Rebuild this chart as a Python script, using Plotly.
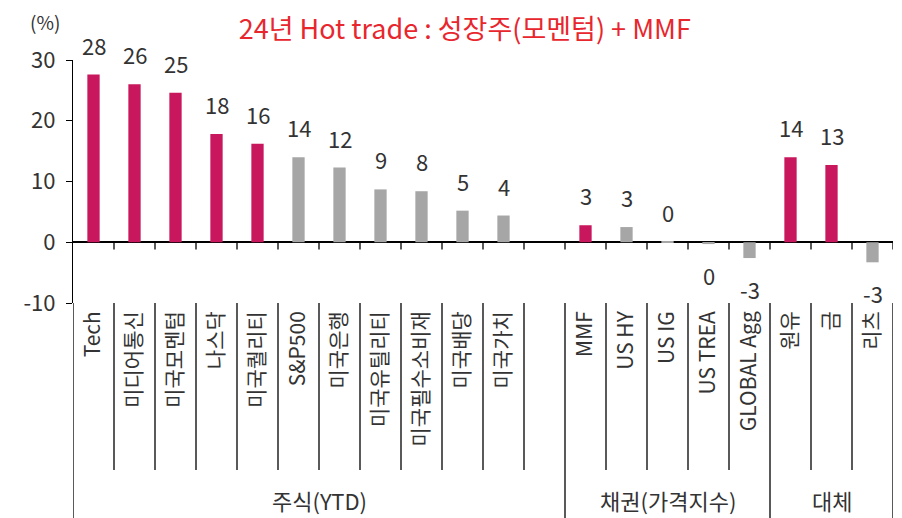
import plotly.graph_objects as go

# data
categories = ['Tech', '미디어통신', '미국모멘텀', '나스닥', '미국퀄리티', 'S&P500', '미국은행',
              '미국유틸리티', '미국필수소비재', '미국배당', '미국가치', '',
              'MMF', 'US HY', 'US IG', 'US TREA', 'GLOBAL Agg',
              '원유', '금', '리츠']
values = [27.6, 26.0, 24.6, 17.8, 16.2, 14.0, 12.3, 8.7, 8.4, 5.2, 4.4, None,
          2.8, 2.5, 0.1, -0.3, -2.6,
          14.0, 12.7, -3.3]
labels = ['28', '26', '25', '18', '16', '14', '12', '9', '8', '5', '4', '',
          '3', '3', '0', '0', '-3',
          '14', '13', '-3']
hot = [1, 1, 1, 1, 1, 0, 0, 0, 0, 0, 0, 0,
       1, 0, 0, 0, 0,
       1, 1, 0]
groups = ['주식(YTD)', '채권(가격지수)', '대체']
group_edges = [(0, 12), (12, 17), (17, 20)]   # slot ranges
y_ticks = [-10, 0, 10, 20, 30]
y_ticktext = ['-10', '0', '10', '20', '30']

MAGENTA = '#c8175d'
GRAY = '#a6a6a6'
TXT = '#333333'
FONT = 'Noto Sans CJK KR'

x = list(range(len(categories)))
colors = [MAGENTA if h else GRAY for h in hot]

fig = go.Figure()
fig.add_trace(go.Bar(x=x, y=values, marker=dict(color=colors, line=dict(width=0)),
                     width=0.3, hoverinfo='skip'))

# value labels
for xi, v, t in zip(x, values, labels):
    if v is None:
        continue
    fig.add_annotation(x=xi, y=v, text=t, showarrow=False, yanchor='middle',
                       yshift=30 if v > 0 else -31,
                       font=dict(size=22, color=TXT, family=FONT))

shapes = []
# small ticks below the zero line at slot boundaries
for k in range(1, len(categories) + 1):
    shapes.append(dict(type='line', xref='x', yref='y', x0=k - 0.5, x1=k - 0.5,
                       y0=0, y1=-1.2, line=dict(color='black', width=1.3)))
# dividers between category labels
group_bounds = [g[0] for g in group_edges] + [group_edges[-1][1]]
for k in range(0, len(categories) + 1):
    y1 = -0.9 if k in group_bounds else -0.687
    shapes.append(dict(type='line', xref='x', yref='paper', x0=k - 0.5, x1=k - 0.5,
                       y0=0, y1=y1, line=dict(color='black', width=1.3)))

# group labels
for name, (a, b) in zip(groups, group_edges):
    fig.add_annotation(x=(a + b - 1) / 2, xref='x', y=-0.81, yref='paper', text=name,
                       showarrow=False, yanchor='middle',
                       font=dict(size=22, color=TXT, family=FONT))

fig.add_annotation(x=-0.055, xref='paper', y=1.16, yref='paper', text='(%)',
                   showarrow=False, yanchor='middle',
                   font=dict(size=19, color=TXT, family=FONT))

# page body has an 8px margin, so the figure is 8px smaller and offset
fig.update_layout(
    width=894, height=510,
    margin=dict(l=65, r=9, t=52, b=215, autoexpand=False),
    plot_bgcolor='white', paper_bgcolor='white',
    showlegend=False,
    font=dict(family=FONT, color=TXT),
    title=dict(text='24년 Hot trade : 성장주(모멘텀) + MMF', x=0.511, xanchor='center',
               y=0.957, yanchor='middle', yref='container',
               font=dict(size=27, color='#e8262e', family=FONT)),
    shapes=shapes,
    xaxis=dict(range=[-0.5, len(categories) - 0.5], tickvals=x, ticktext=categories,
               tickangle=-90, showgrid=False, zeroline=False, showline=False,
               ticks='', tickfont=dict(size=21, color=TXT, family=FONT),
               ticklabelstandoff=3, automargin=False),
    yaxis=dict(range=[-10, 30], tickvals=y_ticks, ticktext=y_ticktext, showgrid=False,
               zeroline=True, zerolinecolor='black', zerolinewidth=1.5,
               showline=True, linecolor='black', linewidth=1.3,
               ticks='outside', ticklen=6, tickcolor='black', automargin=False,
               ticklabelstandoff=6,
               tickfont=dict(size=22, color=TXT, family=FONT)),
)

fig.write_html('out.html')
